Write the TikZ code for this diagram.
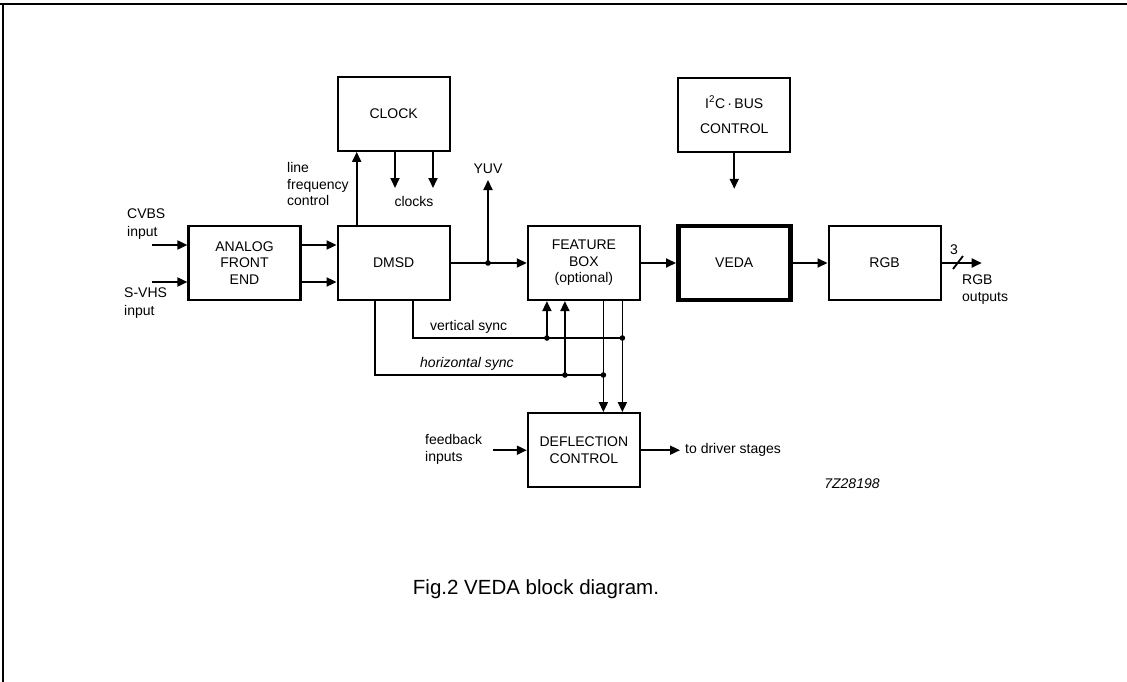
\documentclass[tikz,border=0pt]{standalone}
\usepackage{fontspec}
\setmainfont{Liberation Sans}
\usetikzlibrary{positioning,arrows.meta}

\begin{document}
\begin{tikzpicture}[x=1pt,y=-1pt,>={Triangle[length=10pt,width=9pt]}]
    \tikzstyle{every node}=[font=\fontsize{14}{16.5}\selectfont]
    \tikzstyle{block}=[draw,line width=2.2pt,minimum width=112pt,minimum height=74pt,inner sep=0pt,align=center]
    \tikzstyle{sig}=[line width=1.8pt]
    \tikzstyle{lbl}=[align=left,anchor=west,inner sep=0pt]
    \useasboundingbox (0,0) rectangle (1127,682);
    \draw[line width=1.8pt] (0,4) -- (1127,4);
    \draw[line width=1.8pt] (3,4) -- (3,682);

    % blocks
    \node[block] (afe) at (244.5,263) {ANALOG\\FRONT\\END};
    \node[block,right=35pt of afe] (dmsd) {DMSD};
    \node[block,right=76pt of dmsd] (feat) {FEATURE\\BOX\\(optional)};
    \node[block,right=35pt of feat,line width=4.5pt] (veda) {VEDA};
    \node[block,right=35pt of veda] (rgb) {RGB};
    \node[block,above=73pt of dmsd] (clock) {CLOCK};
    \node[block,above=71pt of veda,font=\fontsize{14}{25}\selectfont] (i2c) {I\textsuperscript{2}C\,·\,BUS\\CONTROL};
    \node[block,below=111pt of feat] (defl) {DEFLECTION\\CONTROL};

    % inputs
    \coordinate (cvbs) at (152,245);
    \coordinate (svhs) at (152,282);
    \draw[sig,->] (cvbs) -- (cvbs -| afe.west);
    \draw[sig,->] (svhs) -- (svhs -| afe.west);
    \node[lbl,font=\fontsize{14}{18}\selectfont] at (127,224) {CVBS\\input};
    \node[lbl,font=\fontsize{14}{18}\selectfont] at (124,303.5) {S-VHS\\input};
    \draw[sig,->] ([yshift=18pt]afe.east) -- ([yshift=18pt]dmsd.west);
    \draw[sig,->] ([yshift=-19pt]afe.east) -- ([yshift=-19pt]dmsd.west);

    % main path
    \draw[sig,->] (dmsd) -- (feat);
    \draw[sig,->] (feat) -- (veda);
    \draw[sig,->] (veda) -- (rgb);
    \coordinate (yj) at (488,263);
    \coordinate (yuv) at (488,180);
    \draw[sig,->] (yj) -- (yuv);
    \fill (yj) circle (2.8pt);
    \node[inner sep=0pt,above=6pt of yuv] {YUV};

    % clock
    \draw[sig,->] ([xshift=-37pt]dmsd.north) -- ([xshift=-37pt]clock.south);
    \node[lbl] at (287,184) {line\\frequency\\control};
    \coordinate (ck1) at (395,188);
    \coordinate (ck2) at (433,188);
    \draw[sig,->] (ck1 |- clock.south) -- (ck1);
    \draw[sig,->] (ck2 |- clock.south) -- (ck2);
    \node at (414,201) {clocks};

    % i2c
    \coordinate[below=36pt of i2c] (ic);
    \draw[sig,->] (i2c) -- (ic);

    % rgb out
    \coordinate[right=40pt of rgb] (rgbo);
    \draw[sig,->] (rgb) -- (rgbo);
    \draw[sig] (953,269) -- (963,256);
    \node at (954,250) {3};
    \node[lbl,font=\fontsize{14}{17}\selectfont] at (962,289.5) {RGB\\outputs};

    % sync lines
    \coordinate (vs) at (0,338);
    \coordinate (hs) at (0,375);
    \coordinate (d1) at ([xshift=19pt]dmsd.south);
    \coordinate (d2) at ([xshift=-19pt]dmsd.south);
    \coordinate (f1) at ([xshift=-37pt]feat.south);
    \coordinate (f2) at ([xshift=-19pt]feat.south);
    \coordinate (f3) at ([xshift=19.5pt]feat.south);
    \coordinate (f4) at ([xshift=38.5pt]feat.south);
    \draw[sig] (d1) |- (f4 |- vs);
    \draw[sig] (d2) |- (f3 |- hs);
    \draw[sig,->] (f1 |- vs) -- (f1);
    \draw[sig,->] (f2 |- hs) -- (f2);
    \draw[sig,->] (f3) -- (f3 |- defl.north);
    \draw[sig,->] (f4) -- (f4 |- defl.north);
    \foreach \p in {(f1 |- vs),(f4 |- vs),(f2 |- hs),(f3 |- hs)}
        \fill \p circle (2.8pt);
    \node[lbl] at (430,327) {vertical sync};
    \node[lbl,font=\fontsize{14}{16.5}\selectfont\itshape] at (420,364) {horizontal sync};

    % deflection
    \coordinate[left=34pt of defl] (fb);
    \draw[sig,->] (fb) -- (defl);
    \node[lbl,font=\fontsize{14}{17}\selectfont] at (425,449.5) {feedback\\inputs};
    \coordinate[right=39pt of defl] (drv);
    \draw[sig,->] (defl) -- (drv);
    \node[lbl,right=5pt of drv] {to driver stages};

    \node[font=\fontsize{14}{15}\selectfont\itshape] at (852,484) {7Z28198};
    \node[font=\fontsize{20.5}{22}\selectfont] at (536,589) {Fig.2 VEDA block diagram.};
\end{tikzpicture}
\end{document}
